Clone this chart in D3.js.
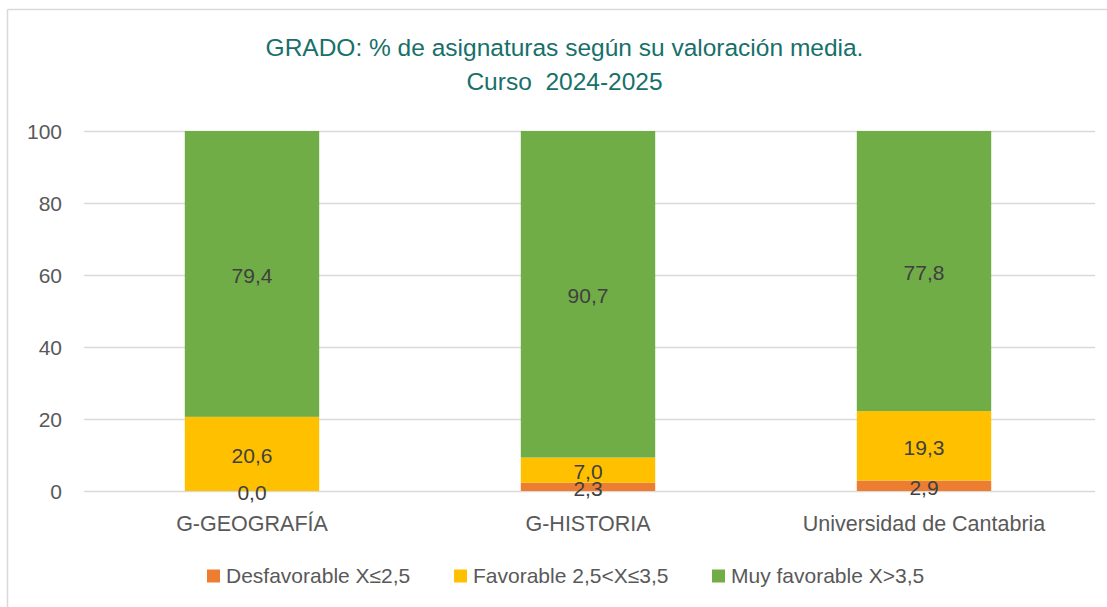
<!DOCTYPE html>
<html>
<head>
<meta charset="utf-8">
<script src="https://cdn.jsdelivr.net/npm/d3@7"></script>
<style>
  html, body { margin: 0; padding: 0; background: #fff; }
  svg { display: block; font-family: "Liberation Sans", Arial, sans-serif; }
  .title { white-space: pre; }
</style>
</head>
<body>
<svg id="chart" width="1107" height="607"></svg>
<script>
const categories = ["G-GEOGRAFÍA", "G-HISTORIA", "Universidad de Cantabria"];
const seriesNames = ["Desfavorable X≤2,5", "Favorable 2,5<X≤3,5", "Muy favorable X>3,5"];
const desfavorable = [0.0, 2.3, 2.9];
const favorable = [20.6, 7.0, 19.3];
const muyFavorable = [79.4, 90.7, 77.8];
const yTicks = [0, 20, 40, 60, 80, 100];
const titleLines = ["GRADO: % de asignaturas según su valoración media.", "Curso  2024-2025"];
const colors = ["#ED7D31", "#FFC000", "#70AD47"];

const svg = d3.select("#chart");
const W = 1107, H = 607;

// frame
svg.append("line").attr("x1", 7.5).attr("x2", 7.5).attr("y1", 9.5).attr("y2", H)
  .attr("stroke", "#d9d9d9").attr("stroke-width", 1.5);
svg.append("line").attr("x1", 7.5).attr("x2", W).attr("y1", 9.5).attr("y2", 9.5)
  .attr("stroke", "#d9d9d9").attr("stroke-width", 1.5);

// title
svg.append("text").attr("class", "title").attr("x", 564.5).attr("text-anchor", "middle")
  .attr("fill", "#17706A").attr("font-size", "24.5px")
  .selectAll("tspan").data(titleLines).join("tspan")
  .attr("x", 564.5).attr("y", (d, i) => 56 + i * 34).text(d => d);

const x = d3.scaleBand().domain(categories).range([84, 1092]).paddingInner(0.6).paddingOuter(0.3);
const y = d3.scaleLinear().domain([0, 100]).range([491, 131]);

// gridlines
svg.append("g").selectAll("line").data(yTicks).join("line")
  .attr("x1", 84).attr("x2", 1095)
  .attr("y1", d => y(d) + 0.5).attr("y2", d => y(d) + 0.5)
  .attr("stroke", "#d9d9d9").attr("stroke-width", 1.5);

// y axis labels
const yAxis = d3.axisLeft(y).tickValues(yTicks).tickSize(0).tickPadding(0).tickFormat(d3.format("d"));
const gy = svg.append("g").attr("transform", "translate(62,0)").call(yAxis);
gy.select(".domain").remove();
gy.selectAll("text").attr("font-size", "21px").attr("fill", "#595959")
  .attr("font-family", "'Liberation Sans', Arial, sans-serif").attr("dy", "0.35em");

// stack
const rows = categories.map((c, i) => ({cat: c, s0: desfavorable[i], s1: favorable[i], s2: muyFavorable[i]}));
const stack = d3.stack().keys(["s0", "s1", "s2"])(rows);

const layers = svg.append("g").selectAll("g").data(stack).join("g")
  .attr("fill", (d, i) => colors[i]);
layers.selectAll("rect").data(d => d).join("rect")
  .attr("x", d => x(d.data.cat))
  .attr("width", x.bandwidth())
  .attr("y", d => y(d[1]))
  .attr("height", d => y(d[0]) - y(d[1]));

// data labels
const fmt = v => v.toFixed(1).replace(".", ",");
const lbl = svg.append("g");
stack.forEach((layer) => {
  layer.forEach(d => {
    lbl.append("text")
      .attr("x", x(d.data.cat) + x.bandwidth() / 2)
      .attr("y", y((d[0] + d[1]) / 2) + 1.5)
      .attr("dy", "0.35em")
      .attr("text-anchor", "middle")
      .attr("font-size", "21px")
      .attr("fill", "#404040")
      .text(fmt(d[1] - d[0]));
  });
});

// x axis labels
const xAxis = d3.axisBottom(x).tickSize(0).tickPadding(0);
const gx = svg.append("g").attr("transform", "translate(0,523)").call(xAxis);
gx.select(".domain").remove();
gx.selectAll("text").attr("font-size", "21.5px").attr("fill", "#595959")
  .attr("font-family", "'Liberation Sans', Arial, sans-serif").attr("dy", "0.35em");

// legend
const legendX = [207, 454, 712];
const leg = svg.append("g").selectAll("g").data(seriesNames).join("g")
  .attr("transform", (d, i) => `translate(${legendX[i]},576)`);
leg.append("rect").attr("x", 0).attr("y", -6.5).attr("width", 13).attr("height", 13)
  .attr("fill", (d, i) => colors[i]);
leg.append("text").attr("x", 19).attr("y", 0).attr("dy", "0.35em")
  .attr("font-size", "21px").attr("fill", "#595959").text(d => d);
</script>
</body>
</html>
